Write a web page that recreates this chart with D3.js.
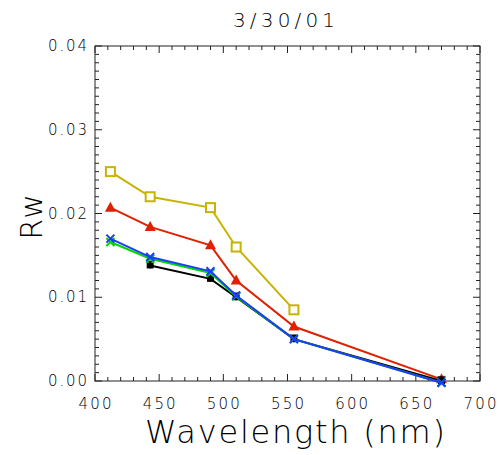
<!DOCTYPE html>
<html><head><meta charset="utf-8">
<script src="https://cdn.jsdelivr.net/npm/d3@7"></script>
<style>body{margin:0;background:#fff}text{font-family:"DejaVu Sans ExtraLight","DejaVu Sans",sans-serif;font-weight:200;fill:#000}</style>
</head><body><svg id="c" width="500" height="455"></svg>
<script>
const title = "3/30/01";
const xTicks = [400,450,500,550,600,650,700];
const yTicks = [0,0.01,0.02,0.03,0.04];
const wlYellow = [412,443,490,510,555];
const rwYellow = [0.0250,0.0220,0.0207,0.0160,0.0085];
const wlRed = [412,443,490,510,555,670];
const rwRed = [0.0207,0.0184,0.0162,0.0120,0.0065,0.0002];
const wlGreen = [412,443,490,510,555,670];
const rwGreen = [0.0166,0.0146,0.0129,0.0101,0.0050,-0.0002];
const wlBlue = [412,443,490,510,555,670];
const rwBlue = [0.0170,0.0148,0.0131,0.0102,0.0050,-0.0002];
const wlBlack = [443,490,510,555,670];
const rwBlack = [0.0138,0.0122,0.0100,0.0050,0.0000];

const svg = d3.select("#c");
const L=95,R=480,T=46,B=381;
const x = d3.scaleLinear().domain([400,700]).range([L,R]);
const y = d3.scaleLinear().domain([0,0.04]).range([B,T]);

svg.append("rect").attr("x",L).attr("y",T).attr("width",R-L).attr("height",B-T)
  .attr("fill","none").attr("stroke","#222").attr("stroke-width",1);

const g = svg.append("g").attr("stroke","#222").attr("stroke-width",1);
d3.range(400,701,10).forEach(v=>{
  const maj = v%50===0; const len = maj?7:4;
  g.append("line").attr("x1",x(v)).attr("x2",x(v)).attr("y1",B).attr("y2",B-len);
  g.append("line").attr("x1",x(v)).attr("x2",x(v)).attr("y1",T).attr("y2",T+len);
});
d3.range(0,41,1).forEach(i=>{
  const v=i/1000; const maj=i%10===0; const len=maj?7:4;
  g.append("line").attr("y1",y(v)).attr("y2",y(v)).attr("x1",L).attr("x2",L+len);
  g.append("line").attr("y1",y(v)).attr("y2",y(v)).attr("x1",R).attr("x2",R-len);
});
svg.selectAll(".xl").data(xTicks).enter().append("text")
  .attr("x",d=>x(d)).attr("y",B+28).attr("text-anchor","middle")
  .attr("font-size",15).attr("textLength",33).attr("lengthAdjust","spacing").text(d=>d);
svg.selectAll(".yl").data(yTicks).enter().append("text")
  .attr("x",L-8).attr("y",d=>y(d)+5).attr("text-anchor","end")
  .attr("font-size",15).attr("textLength",39).attr("lengthAdjust","spacing").text(d=>d.toFixed(2));
svg.append("text").attr("x",284).attr("y",27).attr("text-anchor","middle")
  .attr("font-size",20).attr("textLength",102).attr("lengthAdjust","spacing").text(title);
svg.append("text").attr("x",295).attr("y",443).attr("text-anchor","middle")
  .attr("font-size",32).attr("textLength",300).attr("lengthAdjust","spacing").text("Wavelength (nm)");
svg.append("text").attr("transform","translate(42,217) rotate(-90)").attr("text-anchor","middle")
  .attr("font-size",30).text("Rw");

const line = d3.line().x(d=>x(d[0])).y(d=>y(d[1]));
function series(wl,rw,color,marker){
  const pts = wl.map((w,i)=>[w,rw[i]]);
  svg.append("path").datum(pts).attr("d",line).attr("fill","none")
    .attr("stroke",color).attr("stroke-width",2);
  const mg = svg.append("g");
  pts.forEach(p=>{
    const cx=x(p[0]), cy=y(p[1]);
    if(marker==="square"){
      mg.append("rect").attr("x",cx-4.5).attr("y",cy-4.5).attr("width",9).attr("height",9)
        .attr("fill","#fff").attr("stroke",color).attr("stroke-width",2);
    } else if(marker==="triangle"){
      mg.append("path").attr("d",`M${cx},${cy-6}L${cx+5.5},${cy+4}L${cx-5.5},${cy+4}Z`).attr("fill",color);
    } else if(marker==="x"){
      mg.append("path").attr("d",`M${cx-4},${cy-4}L${cx+4},${cy+4}M${cx-4},${cy+4}L${cx+4},${cy-4}`)
        .attr("stroke",color).attr("stroke-width",2);
    } else if(marker==="circle"){
      mg.append("rect").attr("x",cx-3.5).attr("y",cy-3).attr("width",7).attr("height",6).attr("fill",color);
      mg.append("path").attr("d",`M${cx-4},${cy-4}L${cx+4},${cy-4}M${cx},${cy-4}L${cx},${cy+3}`)
        .attr("stroke",color).attr("stroke-width",1.5);
    }
  });
}
series(wlYellow,rwYellow,"#c8b400","square");
series(wlRed,rwRed,"#e02000","triangle");
series(wlBlack,rwBlack,"#000000","circle");
series(wlGreen,rwGreen,"#00d800","x");
series(wlBlue,rwBlue,"#1c3cff","x");
</script></body></html>
